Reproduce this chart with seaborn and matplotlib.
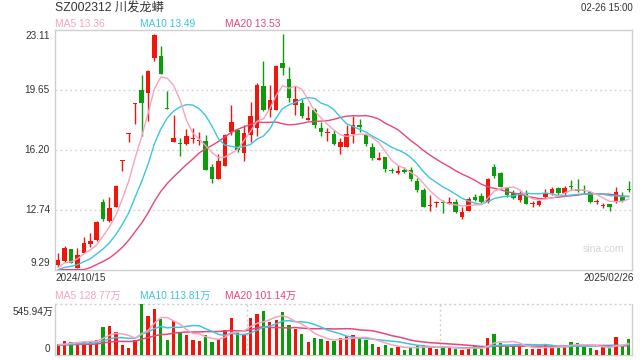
import numpy as np
import pandas as pd
import matplotlib
matplotlib.use("Agg")
import matplotlib.pyplot as plt
import seaborn as sns

title = "SZ002312 川发龙蟒"
stamp = "02-26 15:00"
first_date = "2024/10/15"
last_date = "2025/02/26"
price_ticks = [23.11, 19.65, 16.20, 12.74, 9.29]
vol_max = 545.94
price_ma_text = ["MA5 13.36", "MA10 13.49", "MA20 13.53"]
vol_ma_text = ["MA5 128.77万", "MA10 113.81万", "MA20 101.14万"]

opens = [9.58, 9.83, 10.50, 9.43, 10.29, 10.81, 11.02, 13.21, 12.13, 12.94,
         15.58, 17.10, 18.86, 19.65, 19.50, 21.52, 21.61, 18.60, 16.68, 16.60,
         16.55, 16.85, 16.70, 16.72, 15.22, 14.55, 15.30, 17.26, 17.35, 16.04,
         17.06, 17.49, 19.90, 18.50, 18.50, 21.21, 20.29, 18.79, 18.93, 17.94,
         18.50, 17.49, 17.20, 17.12, 16.39, 16.39, 17.10, 17.64, 17.06, 16.39,
         15.62, 15.82, 15.05, 14.89, 15.03, 15.05, 14.43, 13.90, 12.96, 13.13,
         13.19, 13.09, 13.23, 12.36, 12.71, 13.51, 13.57, 13.23, 15.24, 14.89,
         13.99, 13.70, 13.32, 13.70, 13.11, 13.03, 13.47, 13.70, 13.99, 13.70,
         14.09, 13.95, 13.90, 13.80, 13.20, 12.96, 13.09, 13.19, 13.51, 13.92]
highs = [10.25, 10.69, 10.50, 10.54, 11.17, 11.40, 12.09, 13.36, 13.49, 14.20,
         15.63, 17.16, 18.91, 20.52, 20.81, 22.88, 22.21, 19.60, 18.22, 16.87,
         17.41, 17.45, 17.26, 17.06, 15.37, 15.95, 17.10, 18.81, 17.35, 17.64,
         18.98, 20.04, 21.33, 19.94, 21.09, 22.88, 20.96, 19.90, 19.11, 18.73,
         18.60, 17.83, 17.49, 17.35, 16.91, 17.64, 18.18, 17.99, 17.12, 16.62,
         16.08, 15.82, 15.18, 15.34, 15.20, 15.24, 14.57, 13.99, 13.61, 13.26,
         13.32, 13.47, 13.36, 12.90, 13.51, 13.65, 13.74, 14.59, 15.39, 14.95,
         14.09, 13.90, 13.86, 13.90, 13.28, 13.32, 13.95, 14.09, 14.09, 14.13,
         14.47, 14.51, 14.18, 13.86, 13.36, 13.13, 13.09, 14.05, 13.80, 14.43]
lows = [9.44, 9.77, 9.67, 9.39, 10.25, 10.60, 10.98, 12.09, 12.07, 12.90,
        15.01, 16.68, 17.72, 17.01, 17.89, 21.31, 20.60, 18.55, 16.68, 15.87,
        16.49, 16.58, 16.49, 15.05, 14.32, 14.55, 15.30, 17.04, 16.08, 15.59,
        16.68, 17.01, 18.45, 18.08, 18.50, 20.52, 18.98, 18.22, 18.03, 17.94,
        17.45, 17.01, 16.72, 16.49, 15.97, 16.35, 16.58, 17.26, 16.43, 15.62,
        15.62, 14.95, 14.89, 14.82, 14.86, 14.43, 13.76, 12.94, 12.71, 12.90,
        12.55, 13.09, 12.59, 12.21, 12.69, 13.28, 13.17, 13.13, 14.57, 14.09,
        13.51, 13.36, 13.22, 13.09, 12.94, 12.98, 13.42, 13.61, 13.61, 13.61,
        13.90, 13.80, 13.70, 13.17, 13.09, 12.84, 12.71, 13.17, 13.19, 13.80]
closes = [9.87, 10.54, 9.71, 10.15, 10.83, 10.96, 12.05, 12.23, 12.86, 14.15,
          15.63, 17.16, 18.91, 18.93, 20.75, 22.82, 20.60, 18.55, 16.87, 16.56,
          17.01, 16.89, 16.74, 15.05, 14.55, 15.57, 17.06, 17.81, 16.20, 17.16,
          18.16, 19.94, 18.50, 19.08, 21.04, 20.94, 19.21, 19.13, 18.16, 18.04,
          17.64, 17.26, 17.26, 16.56, 16.68, 17.12, 17.64, 17.55, 16.54, 15.72,
          15.72, 15.09, 14.97, 15.01, 14.95, 14.51, 13.90, 12.94, 12.98, 13.23,
          13.13, 13.23, 12.65, 12.65, 13.36, 13.32, 13.23, 14.53, 14.70, 14.09,
          13.61, 13.42, 13.70, 13.09, 13.13, 13.28, 13.70, 13.95, 13.70, 13.99,
          14.05, 13.86, 13.86, 13.22, 13.22, 12.98, 12.94, 13.80, 13.26, 13.90]
volumes = [118, 151, 144, 144, 144, 136, 162, 305, 312, 244,
           108, 79, 162, 545.94, 413, 495, 388, 162, 366, 240,
           215, 162, 151, 215, 144, 169, 269, 395, 240, 223,
           395, 442, 474, 352, 377, 460, 323, 280, 226, 144,
           183, 172, 151, 151, 180, 205, 215, 180, 162, 118,
           86, 108, 75, 90, 54, 75, 97, 108, 83, 65,
           83, 83, 65, 54, 72, 97, 65, 180, 226, 133,
           90, 97, 97, 65, 65, 65, 108, 97, 79, 97,
           140, 133, 90, 79, 54, 83, 79, 190, 97, 172]
prior_closes = [8.3, 8.4, 8.5, 8.4, 8.6, 8.5, 8.7, 8.8, 8.6, 8.9,
                9.0, 9.1, 9.2, 9.1, 9.3, 9.2, 9.4, 9.3, 9.4]
prior_volumes = [95, 100, 110, 105, 98, 120, 90, 100, 105, 115,
                 100, 95, 110, 105, 100, 120, 98, 110, 105]

RED = "#f0160c"
GREEN = "#0b9b0b"
C_MA5 = "#f7a3c0"
C_MA10 = "#3cc6e0"
C_MA20 = "#e8457a"
FRAME = "#cfcfcf"
TXT = "#333333"

sns.set_style("white")
plt.rcParams["font.family"] = ["Liberation Sans", "Noto Sans CJK SC", "DejaVu Sans"]

W, H = 640, 360
fig = plt.figure(figsize=(6.4, 3.6), dpi=100)
fig.patch.set_facecolor("white")


def fx(x):
    return x / W


def fy(y):
    return 1 - y / H


L, R = 55, 632
axp = fig.add_axes([fx(L), fy(270), (R - L) / W, (270 - 30) / H])
axv = fig.add_axes([fx(L), fy(355), (R - L) / W, (355 - 304) / H])

n = len(closes)
idx = np.arange(n)
o = np.array(opens); c = np.array(closes); h = np.array(highs); lo = np.array(lows)
up = c >= o
cols = np.where(up, RED, GREEN)

ylo, yhi = price_ticks[-1], price_ticks[0]

# price panel
axp.vlines(idx, lo, h, colors=cols, lw=1.0, zorder=2)
bottoms = np.minimum(o, c)
heights = np.maximum(np.abs(c - o), 0.055)
axp.bar(idx, heights, bottom=bottoms, width=0.7, color=cols, linewidth=0, zorder=3)

all_c = pd.Series(prior_closes + closes)
ma_df = pd.DataFrame({"i": idx})
for w in (5, 10, 20):
    ma_df[f"MA{w}"] = np.maximum(all_c.rolling(w).mean().values[len(prior_closes):], ylo + 0.02)
for name, col in (("MA20", C_MA20), ("MA10", C_MA10), ("MA5", C_MA5)):
    sns.lineplot(data=ma_df, x="i", y=name, ax=axp, color=col, lw=1.0, zorder=4)

axp.set_xlim(-0.5, n - 0.5)
axp.set_ylim(ylo, yhi)
for t in price_ticks[1:-1]:
    axp.axhline(t, color="#d8d8d8", lw=1.0, ls=(0, (1.5, 2)), zorder=1)
axp.set_xticks([]); axp.set_yticks([])
axp.set_xlabel(""); axp.set_ylabel("")
for s in axp.spines.values():
    s.set_color(FRAME); s.set_linewidth(1.0)

# volume panel
v = np.array(volumes, dtype=float)
axv.bar(idx, v, width=0.52, color=cols, linewidth=0, zorder=3)
all_v = pd.Series(prior_volumes + volumes, dtype=float)
vdf = pd.DataFrame({"i": idx})
for w in (5, 10, 20):
    vdf[f"MA{w}"] = all_v.rolling(w).mean().values[len(prior_volumes):]
for name, col in (("MA20", C_MA20), ("MA10", C_MA10), ("MA5", C_MA5)):
    sns.lineplot(data=vdf, x="i", y=name, ax=axv, color=col, lw=1.1, zorder=4)
axv.set_xlim(-0.5, n - 0.5)
axv.set_ylim(0, vol_max)
axv.axhline(vol_max, color="#cfcfcf", lw=1.0, ls=(0, (1.5, 2)), zorder=1, clip_on=False)
for xv in (-0.5 + n / 3, -0.5 + 2 * n / 3):
    axv.axvline(xv, color="#cfcfcf", lw=1.0, ls=(0, (1.5, 2)), zorder=1)
axv.set_xticks([]); axv.set_yticks([])
axv.set_xlabel(""); axv.set_ylabel("")
axv.spines["top"].set_visible(False)
for k in ("left", "right", "bottom"):
    axv.spines[k].set_color(FRAME); axv.spines[k].set_linewidth(1.0)

# texts
fig.text(fx(55), fy(9), title, fontsize=8.8, color=TXT, ha="left", va="center")
fig.text(fx(633), fy(8), stamp, fontsize=7, color=TXT, ha="right", va="center")
for txt, col, x in zip(price_ma_text, (C_MA5, C_MA10, C_MA20), (55, 140, 225)):
    fig.text(fx(x), fy(24), txt, fontsize=7.4, color=col, ha="left", va="center")
for txt, col, x in zip(vol_ma_text, (C_MA5, C_MA10, C_MA20), (55, 140, 225)):
    fig.text(fx(x), fy(296), txt, fontsize=7.4, color=col, ha="left", va="center")

label_y = [36, 90, 150, 210, 263]
for t, yy in zip(price_ticks, label_y):
    fig.text(fx(50), fy(yy), f"{t:.2f}", fontsize=7.2, color=TXT, ha="right", va="center")
fig.text(fx(53), fy(312), f"{vol_max:.2f}万", fontsize=7.2, color=TXT, ha="right", va="center")
fig.text(fx(50), fy(349), "0", fontsize=7.2, color=TXT, ha="right", va="center")
fig.text(fx(55), fy(278), first_date, fontsize=7.2, color=TXT, ha="left", va="center")
fig.text(fx(634), fy(278), last_date, fontsize=7.2, color=TXT, ha="right", va="center")
fig.text(fx(603), fy(249), "sina.com", fontsize=7.5, color="#d4d4d4", ha="center", va="center")

fig.savefig("out.png", dpi=100, facecolor="white")
